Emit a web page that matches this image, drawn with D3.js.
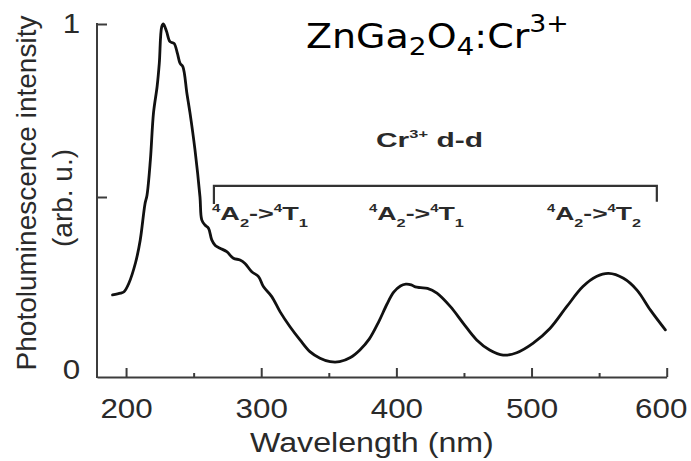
<!DOCTYPE html>
<html><head><meta charset="utf-8">
<script src="https://cdn.jsdelivr.net/npm/d3@7"></script>
<style>body{margin:0;background:#fff;} svg{display:block}</style>
</head><body>
<svg id="chart" width="691" height="461"></svg>
<script>
// ---- data ----
const wavelength = [190,196,198.5,202,207,210.5,214,215.5,218,220.3,223,224.6,226.4,227.6,230,232.5,235.5,238,240,242,245,247.3,251,254.7,256,258.4,261,263.4,266,269.5,274.5,279.4,284.3,288,293,298,301.6,307.8,314,321.3,328.7,336,343.5,351,358,366,373,380,387,393,398,403,407,411,414,418,423,430,440,449.5,459.4,469,479,489,501,513.6,526,538,548,557,568,578,588,599];
const intensity  = [0.217,0.222,0.226,0.25,0.31,0.376,0.48,0.505,0.607,0.743,0.82,0.887,0.992,1.0,0.978,0.949,0.944,0.915,0.886,0.877,0.80,0.743,0.636,0.50,0.434,0.419,0.41,0.376,0.36,0.352,0.342,0.323,0.318,0.308,0.284,0.27,0.241,0.212,0.168,0.125,0.087,0.053,0.034,0.024,0.024,0.036,0.058,0.09,0.14,0.19,0.225,0.243,0.248,0.246,0.24,0.238,0.236,0.222,0.183,0.135,0.087,0.058,0.043,0.05,0.077,0.12,0.183,0.241,0.27,0.279,0.265,0.231,0.173,0.116];
const xTicks = [200,250,300,350,400,450,500,550,600];
const xTickLabels = ["200","","300","","400","","500","","600"];
const yTicks = [0,0.5,1];
const yTickLabels = ["0","","1"];
const bracketWavelengths = [265,592.7];
const bracketLevels = [0.48,0.532,0.486];
const transitionLabels = [["4","A","2","->","4","T","1"],["4","A","2","->","4","T","1"],["4","A","2","->","4","T","2"]];

const svg = d3.select("#chart");
const x = d3.scaleLinear().domain([178.5,600]).range([97,666.7]);
const y = d3.scaleLinear().domain([0,1]).range([370,24]);
const yBase = 377;
const axisColor = "#3c3c3c", textColor = "#2a2a2a";
const sans = "'Liberation Sans', Arial, sans-serif";

function fit(t, left, baseline, width){
  const bb = t.node().getBBox();
  const s = width / bb.width;
  t.attr("transform", `translate(${left - bb.x*s},${baseline}) scale(${s},1)`);
}

// x axis
const xAxis = d3.axisBottom(x).tickValues(xTicks)
  .tickFormat((d,i)=>xTickLabels[i]).tickSizeOuter(0).tickPadding(15);
const gx = svg.append("g").attr("transform",`translate(0,${yBase})`).call(xAxis);
gx.select(".domain").attr("stroke",axisColor).attr("stroke-width",2);
gx.selectAll(".tick line").attr("stroke",axisColor).attr("stroke-width",2)
  .attr("y2",(d,i)=> xTickLabels[i] ? -9 : -4);
gx.selectAll(".tick text").attr("fill",textColor).attr("font-size",28)
  .attr("font-family",sans)
  .attr("transform",(d,i)=> i===xTicks.length-1 ? "translate(-6,0) scale(1.12,1)" : "scale(1.12,1)");

// y axis
const yAxis = d3.axisLeft(y).tickValues(yTicks)
  .tickFormat((d,i)=>yTickLabels[i]).tickSizeOuter(0).tickPadding(9);
const gy = svg.append("g").attr("transform",`translate(${x.range()[0]},0)`).call(yAxis);
gy.select(".domain").remove();
gy.selectAll(".tick line").attr("stroke",axisColor).attr("stroke-width",2)
  .attr("x2",d=> d===0 ? 0 : 10);
gy.selectAll(".tick text").attr("fill",textColor).attr("font-size",28)
  .attr("font-family",sans).attr("transform","scale(1.12,1)");
svg.append("line").attr("x1",x.range()[0]).attr("x2",x.range()[0])
  .attr("y1",y(1)-1).attr("y2",yBase+1).attr("stroke",axisColor).attr("stroke-width",2);

// curve
const pts = wavelength.map((w,i)=>[w,intensity[i]]);
svg.append("path").datum(pts)
  .attr("d", d3.line().x(d=>x(d[0])).y(d=>y(d[1])).curve(d3.curveCatmullRom.alpha(0.5)))
  .attr("fill","none").attr("stroke","#111").attr("stroke-width",2.8)
  .attr("stroke-linejoin","round").attr("stroke-linecap","round");

// bracket
svg.append("path")
  .attr("d", `M${x(bracketWavelengths[0])},${y(bracketLevels[0])}V${y(bracketLevels[1])}H${x(bracketWavelengths[1])}V${y(bracketLevels[2])}`)
  .attr("fill","none").attr("stroke","#333").attr("stroke-width",2.2);

// annotation "Cr3+ d-d"
const cr = svg.append("text").attr("font-family",sans).attr("font-weight","bold")
  .attr("font-size",20).attr("fill",textColor);
cr.append("tspan").text("Cr");
cr.append("tspan").text("3+").attr("font-size",11).attr("dy",-9);
cr.append("tspan").text(" d-d").attr("dy",9);
fit(cr, 376, 147, 107);

// transition labels
const tPos = [[212,96],[369,95],[547,94]];
transitionLabels.forEach((parts,k)=>{
  const t = svg.append("text").attr("font-family",sans).attr("font-weight","bold")
    .attr("font-size",18).attr("fill",textColor);
  t.append("tspan").text(parts[0]).attr("font-size",10).attr("dy",-8);
  t.append("tspan").text(parts[1]).attr("dy",8);
  t.append("tspan").text(parts[2]).attr("font-size",11).attr("dy",7);
  t.append("tspan").text(parts[3]).attr("dy",-7);
  t.append("tspan").text(parts[4]).attr("font-size",10).attr("dy",-8);
  t.append("tspan").text(parts[5]).attr("dy",8);
  t.append("tspan").text(parts[6]).attr("font-size",11).attr("dy",7);
  fit(t, tPos[k][0], 220, tPos[k][1]);
});

// title
const title = svg.append("text").attr("font-family","'DejaVu Sans', Verdana, sans-serif")
  .attr("font-size",34).attr("fill","#000");
title.append("tspan").text("ZnGa");
title.append("tspan").text("2").attr("font-size",25).attr("dy",7);
title.append("tspan").text("O").attr("dy",-7);
title.append("tspan").text("4").attr("font-size",25).attr("dy",7);
title.append("tspan").text(":Cr").attr("dy",-7);
title.append("tspan").text("3+").attr("font-size",24).attr("dy",-16);
fit(title, 306, 48, 263);

// axis titles
const xt = svg.append("text").attr("font-family",sans).attr("font-size",28)
  .attr("fill",textColor).text("Wavelength (nm)");
fit(xt, 250, 452, 244);

svg.append("text").attr("font-family",sans).attr("font-size",28).attr("fill",textColor)
  .attr("text-anchor","middle").attr("transform","translate(36,193) rotate(-90)")
  .text("Photoluminescence intensity");
svg.append("text").attr("font-family",sans).attr("font-size",28).attr("fill",textColor)
  .attr("text-anchor","middle").attr("transform","translate(72,198) rotate(-90)")
  .text("(arb. u.)");
</script>
</body></html>
